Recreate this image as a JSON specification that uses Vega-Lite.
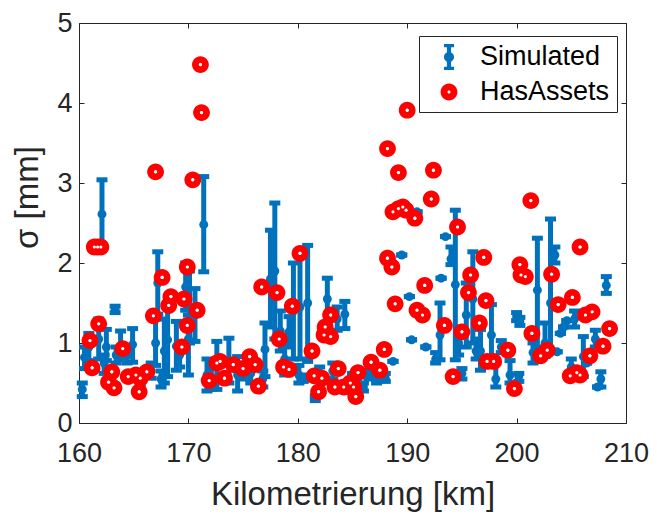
{
  "$schema": "https://vega.github.io/schema/vega-lite/v6.json",
  "width": 547,
  "height": 400,
  "autosize": "none",
  "padding": {"left": 79, "top": 23, "right": 31, "bottom": 91},
  "background": "white",
  "config": {
    "font": "Liberation Sans",
    "view": {"stroke": "#262626", "strokeWidth": 1},
    "axis": {"grid": false, "domain": false, "tickColor": "#262626", "labelColor": "#262626", "titleColor": "#262626", "labelFont": "Liberation Sans", "titleFont": "Liberation Sans", "labelFontSize": 27, "titleFontSize": 33, "titleFontWeight": "normal", "tickSize": -5, "tickWidth": 1}
  },
  "datasets": {
    "blue": [
      {"km":160.3,"m":0.42,"lo":0.33,"hi":0.50},
      {"km":160.5,"m":0.82,"lo":0.68,"hi":0.95},
      {"km":160.9,"m":0.95,"lo":0.78,"hi":1.12},
      {"km":161.8,"m":1.05,"lo":0.80,"hi":1.30},
      {"km":162.1,"m":2.61,"lo":2.18,"hi":3.04},
      {"km":162.5,"m":0.95,"lo":0.78,"hi":1.17},
      {"km":162.3,"m":0.75,"lo":0.62,"hi":0.85},
      {"km":163.3,"m":1.42,"lo":1.38,"hi":1.46},
      {"km":163.4,"m":0.85,"lo":0.75,"hi":0.95},
      {"km":163.8,"m":0.95,"lo":0.80,"hi":1.15},
      {"km":164.4,"m":0.85,"lo":0.75,"hi":0.97},
      {"km":164.9,"m":0.98,"lo":0.76,"hi":1.18},
      {"km":165.6,"m":0.55,"lo":0.48,"hi":0.62},
      {"km":166.6,"m":0.65,"lo":0.56,"hi":0.75},
      {"km":167.2,"m":1.75,"lo":1.36,"hi":2.14},
      {"km":167.0,"m":1.00,"lo":0.72,"hi":1.30},
      {"km":167.5,"m":0.55,"lo":0.45,"hi":0.65},
      {"km":167.8,"m":0.90,"lo":0.50,"hi":1.30},
      {"km":168.1,"m":1.04,"lo":0.58,"hi":1.50},
      {"km":168.9,"m":0.96,"lo":0.66,"hi":1.27},
      {"km":169.2,"m":0.85,"lo":0.70,"hi":1.00},
      {"km":169.75,"m":1.70,"lo":1.41,"hi":2.00},
      {"km":170.0,"m":1.05,"lo":0.60,"hi":1.35},
      {"km":170.1,"m":1.45,"lo":1.00,"hi":1.90},
      {"km":170.6,"m":1.35,"lo":1.02,"hi":1.68},
      {"km":171.4,"m":2.48,"lo":1.89,"hi":3.08},
      {"km":171.7,"m":0.60,"lo":0.40,"hi":0.80},
      {"km":172.1,"m":0.55,"lo":0.42,"hi":0.70},
      {"km":172.6,"m":0.72,"lo":0.42,"hi":1.02},
      {"km":173.7,"m":0.78,"lo":0.50,"hi":1.06},
      {"km":174.5,"m":0.60,"lo":0.40,"hi":0.83},
      {"km":175.2,"m":0.65,"lo":0.55,"hi":0.75},
      {"km":175.7,"m":0.62,"lo":0.50,"hi":0.75},
      {"km":176.8,"m":0.55,"lo":0.45,"hi":0.65},
      {"km":177.0,"m":0.92,"lo":0.58,"hi":1.25},
      {"km":177.5,"m":1.80,"lo":1.20,"hi":2.41},
      {"km":177.9,"m":1.90,"lo":1.05,"hi":2.75},
      {"km":178.4,"m":1.15,"lo":0.90,"hi":1.40},
      {"km":178.8,"m":0.80,"lo":0.60,"hi":1.05},
      {"km":179.2,"m":1.14,"lo":0.95,"hi":1.33},
      {"km":179.6,"m":1.40,"lo":0.80,"hi":2.00},
      {"km":180.1,"m":0.60,"lo":0.50,"hi":0.72},
      {"km":180.2,"m":1.45,"lo":0.80,"hi":2.08},
      {"km":180.5,"m":0.56,"lo":0.52,"hi":0.60},
      {"km":180.9,"m":1.50,"lo":0.77,"hi":2.22},
      {"km":181.6,"m":0.31,"lo":0.28,"hi":0.34},
      {"km":182.0,"m":0.62,"lo":0.55,"hi":0.70},
      {"km":182.7,"m":1.55,"lo":1.25,"hi":1.81},
      {"km":183.2,"m":0.65,"lo":0.55,"hi":0.75},
      {"km":183.6,"m":1.30,"lo":1.16,"hi":1.45},
      {"km":184.3,"m":1.36,"lo":1.18,"hi":1.52},
      {"km":184.6,"m":0.45,"lo":0.38,"hi":0.52},
      {"km":185.0,"m":0.55,"lo":0.48,"hi":0.62},
      {"km":185.5,"m":0.50,"lo":0.40,"hi":0.58},
      {"km":186.0,"m":0.45,"lo":0.40,"hi":0.50},
      {"km":186.5,"m":0.60,"lo":0.55,"hi":0.66},
      {"km":187.2,"m":0.54,"lo":0.50,"hi":0.60},
      {"km":188.0,"m":0.56,"lo":0.52,"hi":0.62},
      {"km":188.7,"m":0.77,"lo":0.77,"hi":0.77},
      {"km":189.5,"m":2.10,"lo":2.10,"hi":2.10},
      {"km":190.2,"m":1.58,"lo":1.58,"hi":1.58},
      {"km":190.4,"m":1.04,"lo":1.04,"hi":1.04},
      {"km":190.9,"m":2.64,"lo":2.64,"hi":2.64},
      {"km":191.7,"m":0.95,"lo":0.95,"hi":0.95},
      {"km":193.1,"m":1.81,"lo":1.81,"hi":1.81},
      {"km":193.5,"m":2.33,"lo":2.33,"hi":2.33},
      {"km":192.6,"m":0.80,"lo":0.75,"hi":0.88},
      {"km":193.0,"m":1.10,"lo":0.79,"hi":1.50},
      {"km":194.0,"m":2.05,"lo":1.98,"hi":2.20},
      {"km":194.4,"m":1.73,"lo":0.79,"hi":2.66},
      {"km":194.7,"m":1.00,"lo":0.85,"hi":1.20},
      {"km":195.0,"m":0.62,"lo":0.55,"hi":0.68},
      {"km":195.4,"m":1.35,"lo":0.95,"hi":1.75},
      {"km":196.0,"m":1.55,"lo":1.00,"hi":2.14},
      {"km":196.3,"m":0.90,"lo":0.80,"hi":1.05},
      {"km":196.7,"m":0.90,"lo":0.66,"hi":1.17},
      {"km":197.7,"m":1.10,"lo":0.75,"hi":1.48},
      {"km":198.1,"m":0.55,"lo":0.45,"hi":0.75},
      {"km":198.6,"m":0.95,"lo":0.88,"hi":1.03},
      {"km":199.4,"m":0.60,"lo":0.50,"hi":0.78},
      {"km":200.0,"m":1.33,"lo":1.28,"hi":1.38},
      {"km":200.3,"m":1.27,"lo":1.22,"hi":1.32},
      {"km":200.2,"m":0.58,"lo":0.52,"hi":0.62},
      {"km":201.5,"m":0.88,"lo":0.75,"hi":1.00},
      {"km":201.9,"m":1.66,"lo":0.95,"hi":2.31},
      {"km":202.6,"m":1.00,"lo":0.83,"hi":1.25},
      {"km":203.1,"m":1.50,"lo":0.91,"hi":2.55},
      {"km":203.5,"m":2.10,"lo":2.00,"hi":2.20},
      {"km":203.7,"m":0.89,"lo":0.89,"hi":0.89},
      {"km":204.0,"m":1.12,"lo":1.12,"hi":1.12},
      {"km":204.3,"m":1.20,"lo":1.20,"hi":1.20},
      {"km":204.6,"m":1.28,"lo":1.28,"hi":1.28},
      {"km":205.3,"m":1.30,"lo":1.20,"hi":1.40},
      {"km":205.0,"m":0.70,"lo":0.60,"hi":0.80},
      {"km":206.1,"m":0.83,"lo":0.58,"hi":1.08},
      {"km":206.4,"m":0.75,"lo":0.75,"hi":0.75},
      {"km":207.2,"m":1.05,"lo":0.95,"hi":1.16},
      {"km":207.4,"m":0.45,"lo":0.45,"hi":0.45},
      {"km":207.7,"m":0.55,"lo":0.45,"hi":0.64},
      {"km":208.2,"m":1.72,"lo":1.62,"hi":1.83}
    ],
    "red": [
      {"km":161.0,"s":1.03,"series":"HasAssets"},
      {"km":161.2,"s":0.69,"series":"HasAssets"},
      {"km":161.4,"s":2.2,"series":"HasAssets"},
      {"km":161.7,"s":2.2,"series":"HasAssets"},
      {"km":162.0,"s":2.2,"series":"HasAssets"},
      {"km":161.8,"s":1.24,"series":"HasAssets"},
      {"km":163.0,"s":0.64,"series":"HasAssets"},
      {"km":162.7,"s":0.51,"series":"HasAssets"},
      {"km":163.2,"s":0.44,"series":"HasAssets"},
      {"km":164.0,"s":0.93,"series":"HasAssets"},
      {"km":164.5,"s":0.58,"series":"HasAssets"},
      {"km":165.2,"s":0.6,"series":"HasAssets"},
      {"km":165.6,"s":0.56,"series":"HasAssets"},
      {"km":166.2,"s":0.64,"series":"HasAssets"},
      {"km":165.5,"s":0.39,"series":"HasAssets"},
      {"km":167.0,"s":3.14,"series":"HasAssets"},
      {"km":167.6,"s":1.82,"series":"HasAssets"},
      {"km":168.4,"s":1.58,"series":"HasAssets"},
      {"km":168.2,"s":1.47,"series":"HasAssets"},
      {"km":169.6,"s":1.55,"series":"HasAssets"},
      {"km":169.9,"s":1.95,"series":"HasAssets"},
      {"km":166.8,"s":1.34,"series":"HasAssets"},
      {"km":169.9,"s":1.22,"series":"HasAssets"},
      {"km":169.4,"s":0.95,"series":"HasAssets"},
      {"km":170.4,"s":3.04,"series":"HasAssets"},
      {"km":170.8,"s":1.41,"series":"HasAssets"},
      {"km":171.1,"s":4.48,"series":"HasAssets"},
      {"km":171.2,"s":3.88,"series":"HasAssets"},
      {"km":171.9,"s":0.53,"series":"HasAssets"},
      {"km":172.6,"s":0.75,"series":"HasAssets"},
      {"km":172.9,"s":0.77,"series":"HasAssets"},
      {"km":173.3,"s":0.56,"series":"HasAssets"},
      {"km":174.1,"s":0.73,"series":"HasAssets"},
      {"km":175.0,"s":0.68,"series":"HasAssets"},
      {"km":175.6,"s":0.83,"series":"HasAssets"},
      {"km":176.1,"s":0.73,"series":"HasAssets"},
      {"km":176.4,"s":0.46,"series":"HasAssets"},
      {"km":176.7,"s":1.70,"series":"HasAssets"},
      {"km":178.1,"s":1.63,"series":"HasAssets"},
      {"km":179.5,"s":1.46,"series":"HasAssets"},
      {"km":180.2,"s":2.12,"series":"HasAssets"},
      {"km":178.3,"s":1.05,"series":"HasAssets"},
      {"km":178.7,"s":0.70,"series":"HasAssets"},
      {"km":179.2,"s":0.67,"series":"HasAssets"},
      {"km":181.3,"s":0.90,"series":"HasAssets"},
      {"km":183.0,"s":1.35,"series":"HasAssets"},
      {"km":182.5,"s":1.20,"series":"HasAssets"},
      {"km":182.4,"s":1.10,"series":"HasAssets"},
      {"km":183.0,"s":1.08,"series":"HasAssets"},
      {"km":181.5,"s":0.59,"series":"HasAssets"},
      {"km":182.2,"s":0.56,"series":"HasAssets"},
      {"km":181.9,"s":0.39,"series":"HasAssets"},
      {"km":183.7,"s":0.68,"series":"HasAssets"},
      {"km":183.4,"s":0.45,"series":"HasAssets"},
      {"km":184.2,"s":0.45,"series":"HasAssets"},
      {"km":184.8,"s":0.50,"series":"HasAssets"},
      {"km":185.1,"s":0.45,"series":"HasAssets"},
      {"km":185.5,"s":0.63,"series":"HasAssets"},
      {"km":185.3,"s":0.33,"series":"HasAssets"},
      {"km":186.7,"s":0.76,"series":"HasAssets"},
      {"km":187.5,"s":0.66,"series":"HasAssets"},
      {"km":187.9,"s":0.92,"series":"HasAssets"},
      {"km":188.2,"s":3.43,"series":"HasAssets"},
      {"km":189.2,"s":3.13,"series":"HasAssets"},
      {"km":190.0,"s":3.91,"series":"HasAssets"},
      {"km":188.2,"s":2.06,"series":"HasAssets"},
      {"km":188.6,"s":1.95,"series":"HasAssets"},
      {"km":188.9,"s":1.49,"series":"HasAssets"},
      {"km":188.7,"s":2.64,"series":"HasAssets"},
      {"km":189.2,"s":2.68,"series":"HasAssets"},
      {"km":189.6,"s":2.70,"series":"HasAssets"},
      {"km":189.9,"s":2.66,"series":"HasAssets"},
      {"km":190.7,"s":2.56,"series":"HasAssets"},
      {"km":192.4,"s":3.16,"series":"HasAssets"},
      {"km":192.2,"s":2.80,"series":"HasAssets"},
      {"km":194.6,"s":2.45,"series":"HasAssets"},
      {"km":197.0,"s":2.07,"series":"HasAssets"},
      {"km":195.8,"s":1.85,"series":"HasAssets"},
      {"km":195.6,"s":1.63,"series":"HasAssets"},
      {"km":197.2,"s":1.53,"series":"HasAssets"},
      {"km":191.6,"s":1.72,"series":"HasAssets"},
      {"km":190.9,"s":1.41,"series":"HasAssets"},
      {"km":191.4,"s":1.35,"series":"HasAssets"},
      {"km":193.4,"s":1.22,"series":"HasAssets"},
      {"km":195.0,"s":1.14,"series":"HasAssets"},
      {"km":196.6,"s":1.25,"series":"HasAssets"},
      {"km":199.2,"s":0.91,"series":"HasAssets"},
      {"km":197.3,"s":0.77,"series":"HasAssets"},
      {"km":197.9,"s":0.77,"series":"HasAssets"},
      {"km":194.2,"s":0.58,"series":"HasAssets"},
      {"km":199.8,"s":0.43,"series":"HasAssets"},
      {"km":200.3,"s":1.98,"series":"HasAssets"},
      {"km":200.8,"s":1.83,"series":"HasAssets"},
      {"km":200.4,"s":1.85,"series":"HasAssets"},
      {"km":201.3,"s":2.78,"series":"HasAssets"},
      {"km":205.8,"s":2.20,"series":"HasAssets"},
      {"km":203.2,"s":1.86,"series":"HasAssets"},
      {"km":203.8,"s":1.48,"series":"HasAssets"},
      {"km":205.1,"s":1.57,"series":"HasAssets"},
      {"km":206.3,"s":1.35,"series":"HasAssets"},
      {"km":206.9,"s":1.39,"series":"HasAssets"},
      {"km":208.5,"s":1.18,"series":"HasAssets"},
      {"km":201.4,"s":1.12,"series":"HasAssets"},
      {"km":202.2,"s":0.84,"series":"HasAssets"},
      {"km":202.8,"s":0.91,"series":"HasAssets"},
      {"km":207.9,"s":0.96,"series":"HasAssets"},
      {"km":206.7,"s":0.84,"series":"HasAssets"},
      {"km":204.9,"s":0.59,"series":"HasAssets"},
      {"km":205.5,"s":0.63,"series":"HasAssets"},
      {"km":205.8,"s":0.60,"series":"HasAssets"}
    ]
  },
  "layer": [
    {
      "data": {"name": "blue"},
      "mark": {"type": "rule", "color": "#0072BD", "strokeWidth": 5},
      "encoding": {
        "x": {"field": "km", "type": "quantitative", "scale": {"domain": [160, 210], "nice": false, "zero": false}, "axis": {"orient": "bottom", "values": [160, 170, 180, 190, 200, 210], "title": "Kilometrierung [km]", "labelPadding": 22, "titlePadding": 12, "labelFlush": false}},
        "y": {"field": "lo", "type": "quantitative", "scale": {"domain": [0, 5], "nice": false, "zero": false}, "axis": {"orient": "left", "values": [0, 1, 2, 3, 4, 5], "title": "σ [mm]", "titleY": 174, "labelPadding": 12, "titlePadding": 12, "labelFlush": false}},
        "y2": {"field": "hi"}
      }
    },
    {
      "data": {"name": "blue"},
      "mark": {"type": "tick", "orient": "horizontal", "color": "#0072BD", "size": 11, "thickness": 5, "opacity": 1},
      "encoding": {
        "x": {"field": "km", "type": "quantitative", "axis": null},
        "y": {"field": "lo", "type": "quantitative", "axis": null}
      }
    },
    {
      "data": {"name": "blue"},
      "mark": {"type": "tick", "orient": "horizontal", "color": "#0072BD", "size": 11, "thickness": 5, "opacity": 1},
      "encoding": {
        "x": {"field": "km", "type": "quantitative", "axis": null},
        "y": {"field": "hi", "type": "quantitative", "axis": null}
      }
    },
    {
      "data": {"name": "blue"},
      "mark": {"type": "point", "filled": true, "shape": "circle", "color": "#0072BD", "size": 80, "opacity": 1},
      "encoding": {
        "x": {"field": "km", "type": "quantitative", "axis": null},
        "y": {"field": "m", "type": "quantitative", "axis": null}
      }
    },
    {
      "data": {"name": "red"},
      "mark": {"type": "point", "filled": true, "size": 784, "opacity": 1},
      "encoding": {
        "x": {"field": "km", "type": "quantitative", "axis": null},
        "y": {"field": "s", "type": "quantitative", "axis": null},
        "color": {"field": "series", "type": "nominal", "scale": {"domain": ["Simulated", "HasAssets"], "range": ["#0072BD", "#FF0000"]}, "legend": {"title": null, "orient": "none", "legendX": 340, "legendY": 13, "labelFontSize": 27, "labelFont": "Liberation Sans", "labelColor": "#000000", "symbolSize": 784, "symbolOffset": 9, "labelOffset": 17, "padding": 7, "rowPadding": 7, "strokeColor": "#262626", "fillColor": "white", "symbolStrokeWidth": 0, "symbolOpacity": 1}},
        "shape": {"field": "series", "type": "nominal", "scale": {"domain": ["Simulated", "HasAssets"], "range": ["M-0.15,-0.93H0.15V0.93H-0.15Z M-0.36,-0.93H0.36V-0.7H-0.36Z M-0.36,0.7H0.36V0.93H-0.36Z M-0.36,0A0.36,0.36 0 1,1 0.36,0A0.36,0.36 0 1,1 -0.36,0Z", "M-0.6,0A0.6,0.6 0 1,1 0.6,0A0.6,0.6 0 1,1 -0.6,0Z M-0.11,0A0.11,0.11 0 1,0 0.11,0A0.11,0.11 0 1,0 -0.11,0Z"]}, "legend": {"title": null, "orient": "none", "legendX": 340, "legendY": 13, "labelFontSize": 27, "labelFont": "Liberation Sans", "labelColor": "#000000", "symbolSize": 784, "symbolOffset": 9, "labelOffset": 17, "padding": 7, "rowPadding": 7, "strokeColor": "#262626", "fillColor": "white", "symbolStrokeWidth": 0, "symbolOpacity": 1}}
      }
    },
    {
      "data": {"name": "red"},
      "mark": {"type": "point", "filled": true, "shape": "circle", "color": "white", "size": 10, "opacity": 1},
      "encoding": {
        "x": {"field": "km", "type": "quantitative", "axis": {"orient": "top", "values": [160, 170, 180, 190, 200, 210], "labels": false, "title": null}},
        "y": {"field": "s", "type": "quantitative", "axis": {"orient": "right", "values": [0, 1, 2, 3, 4, 5], "labels": false, "title": null}}
      }
    }
  ],
  "resolve": {"axis": {"x": "independent", "y": "independent"}}
}
